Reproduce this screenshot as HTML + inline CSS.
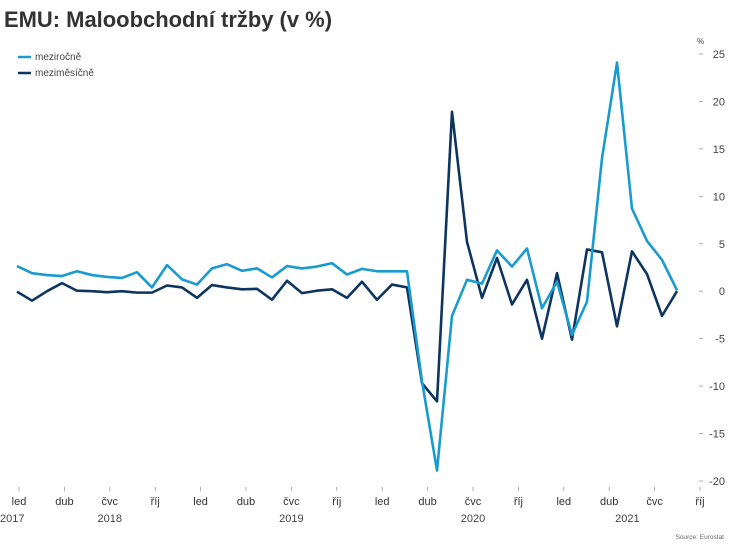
<!DOCTYPE html>
<html><head><meta charset="utf-8">
<style>
body{margin:0;background:#fff;width:733px;height:548px;overflow:hidden;font-family:"Liberation Sans",sans-serif;}
svg text{font-family:"Liberation Sans",sans-serif;}
</style></head>
<body>
<svg id="chart" width="733" height="548" viewBox="0 0 733 548">
<text x="4" y="27" font-size="22" font-weight="bold" fill="#333" textLength="328" lengthAdjust="spacingAndGlyphs">EMU: Maloobchodní tržby (v %)</text>
<g>
<g><line x1="18" y1="57" x2="31" y2="57" stroke="#1a9bd0" stroke-width="2.5"/><text x="35" y="60" font-size="10" fill="#444">meziročně</text></g>
<g><line x1="18" y1="73" x2="31" y2="73" stroke="#0d3560" stroke-width="2.5"/><text x="35" y="76" font-size="10" fill="#444">meziměsíčně</text></g>
</g>
<text x="697" y="44" font-size="8" fill="#444">%</text>
<g id="yaxis"></g>
<g id="xaxis"></g>
<g id="series"></g>
<text x="724" y="539" font-size="6.5" fill="#666" text-anchor="end">Source: Eurostat</text>
</svg>
<script>
const yoy=[2.65,1.9,1.7,1.6,2.1,1.7,1.5,1.4,2.0,0.4,2.75,1.25,0.7,2.4,2.85,2.15,2.4,1.45,2.65,2.4,2.6,2.95,1.75,2.35,2.1,2.1,2.1,-9.5,-18.9,-2.6,1.2,0.8,4.3,2.6,4.5,-1.8,1.0,-4.6,-1.1,14,24.1,8.7,5.3,3.3,0.1];
const mom=[-0.05,-1.0,0,0.85,0.05,0,-0.1,0,-0.15,-0.15,0.6,0.4,-0.7,0.65,0.4,0.2,0.25,-0.9,1.1,-0.2,0.05,0.2,-0.7,1.0,-0.9,0.7,0.4,-9.7,-11.6,18.9,5.2,-0.7,3.5,-1.4,1.2,-5.0,1.9,-5.1,4.4,4.1,-3.7,4.2,1.8,-2.6,0];
const yTicks=[25,20,15,10,5,0,-5,-10,-15,-20];
const xTickLabels=["led","dub","čvc","říj","led","dub","čvc","říj","led","dub","čvc","říj","led","dub","čvc","říj"];
const yearLabels=["2017","2018","2019","2020","2021"];
const yearPos=[0,2,6,10,13.4];
const NS="http://www.w3.org/2000/svg";
function X(i){return 17+i*15;}
function Y(v){return 291.2-v*9.49;}
function tickX(k){return 19+k*45.4;}
function mk(tag,attrs,parent){const e=document.createElementNS(NS,tag);for(const k in attrs)e.setAttribute(k,attrs[k]);parent.appendChild(e);return e;}
const ya=document.getElementById('yaxis');
yTicks.forEach(v=>{
 const g=mk('g',{},ya);
 
 
 mk('line',{x1:699,x2:703,y1:Y(v),y2:Y(v),stroke:'#999','stroke-width':0.8},g);
 const t=mk('text',{x:725,y:Y(v)+4,'font-size':11,fill:'#444','text-anchor':'end'},g);
 t.textContent=v;
});
const xa=document.getElementById('xaxis');
xTickLabels.forEach((l,k)=>{
 const g=mk('g',{},xa);
 
 
 mk('line',{x1:tickX(k),x2:tickX(k),y1:487,y2:491,stroke:'#999','stroke-width':0.8},g);
 const t=mk('text',{x:tickX(k),y:505,'font-size':11,fill:'#333','text-anchor':'middle'},g);
 t.textContent=l;
});
yearLabels.forEach((l,k)=>{
 const t=mk('text',{x:k===0?0:tickX(yearPos[k]),y:522,'font-size':11,fill:'#444','text-anchor':k===0?'start':'middle'},xa);
 
 
 t.textContent=l;
});
const s=document.getElementById('series');
function line(data,color,name){
 const p=mk('polyline',{points:data.map((v,i)=>X(i)+','+Y(v)).join(' '),fill:'none',stroke:color,'stroke-width':2.6,'stroke-linejoin':'round'},s);
 
 
}
line(mom,'#0d3560','line-mezimesicne');
line(yoy,'#1a9bd0','line-mezirocne');
</script>
</body></html>
